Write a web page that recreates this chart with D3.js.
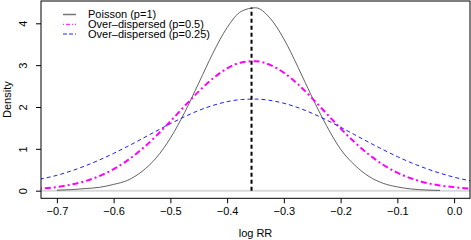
<!DOCTYPE html>
<html>
<head>
<meta charset="utf-8">
<script src="https://cdn.jsdelivr.net/npm/d3@7"></script>
<style>
  body { margin: 0; background: white; }
  svg { display: block; font-family: "Liberation Sans", Arial, Helvetica, sans-serif; }
  .axis text { font-size: 11px; fill: black; }
  .axis line { stroke: black; }
  .axis path { display: none; }
</style>
</head>
<body>
<div id="chart"></div>
<script>
// log RR grid the curves were read at
var logRR = [-0.73, -0.70, -0.675, -0.65, -0.625, -0.60, -0.575, -0.55, -0.525, -0.50,
             -0.475, -0.45, -0.425, -0.40, -0.375, -0.35, -0.325, -0.30, -0.275, -0.25,
             -0.225, -0.20, -0.175, -0.15, -0.125, -0.10, -0.075, -0.05, -0.025, 0.0, 0.03];

// density values (null = curve not drawn there)
var poisson = [null, 0.010, 0.025, 0.050, 0.080, 0.150, 0.250, 0.460, 0.784, 1.256,
               1.866, 2.572, 3.288, 3.898, 4.286, 4.371, 4.134, 3.626, 2.950, 2.226,
               1.558, 0.990, 0.609, 0.340, 0.176, 0.090, 0.040, 0.016, 0.006, null, null];
var overHalf = [0.047, 0.088, 0.144, 0.229, 0.350, 0.515, 0.730, 0.996, 1.309, 1.658,
                2.021, 2.373, 2.683, 2.921, 3.064, 3.094, 3.009, 2.818, 2.541, 2.207,
                1.846, 1.487, 1.154, 0.862, 0.620, 0.430, 0.290, 0.190, 0.125, 0.085, 0.045];
var overQuarter = [0.275, 0.367, 0.471, 0.594, 0.735, 0.892, 1.062, 1.241, 1.423, 1.601,
                   1.768, 1.917, 2.038, 2.127, 2.178, 2.189, 2.159, 2.089, 1.984, 1.848,
                   1.690, 1.517, 1.336, 1.154, 0.979, 0.814, 0.665, 0.533, 0.419, 0.323, 0.230];

// mode of the Poisson curve, marked by the dashed vertical line
var peakRR = -0.357, peakDensity = 4.38;

var xTicks = [-0.7, -0.6, -0.5, -0.4, -0.3, -0.2, -0.1, 0.0];
var yTicks = [0, 1, 2, 3, 4];
var legendLabels = ['Poisson (p=1)', 'Over\u2013dispersed (p=0.5)', 'Over\u2013dispersed (p=0.25)'];

var width = 471, height = 240;
var plot = { left: 41, right: 470, top: 1, bottom: 198.3 };

var svg = d3.select('#chart').append('svg')
    .attr('width', width).attr('height', height);

var x = d3.scaleLinear().domain([-0.728, 0.028]).range([plot.left, plot.right]);
var y = d3.scaleLinear().domain([-0.182, 4.533]).range([plot.bottom, plot.top]);

svg.append('clipPath').attr('id', 'clip')
  .append('rect')
    .attr('x', plot.left).attr('y', plot.top)
    .attr('width', plot.right - plot.left).attr('height', plot.bottom - plot.top);

// light grey reference line at density 0
svg.append('line')
    .attr('x1', plot.left).attr('x2', plot.right)
    .attr('y1', y(0)).attr('y2', y(0))
    .style('stroke', '#d9d9d9').style('stroke-width', 2);

// the three density curves
var series = [
  { values: poisson, color: '#3a3a3a', width: 0.8, dash: null },
  { values: overHalf, color: '#ff00ff', width: 2, dash: '2,3,6,3' },
  { values: overQuarter, color: '#0000ff', width: 0.9, dash: '4,3' }
];

var line = d3.line()
    .defined(function(d) { return d[1] !== null; })
    .x(function(d) { return x(d[0]); })
    .y(function(d) { return y(d[1]); })
    .curve(d3.curveMonotoneX);

var curves = svg.append('g').attr('clip-path', 'url(#clip)');
series.forEach(function(s) {
  var pts = logRR.map(function(v, i) { return [v, s.values[i]]; });
  curves.append('path')
      .attr('d', line(pts))
      .style('fill', 'none')
      .style('stroke', s.color)
      .style('stroke-width', s.width)
      .style('stroke-dasharray', s.dash);
});

// dashed vertical line at the mode
svg.append('line')
    .attr('x1', x(peakRR)).attr('x2', x(peakRR))
    .attr('y1', y(0)).attr('y2', y(peakDensity))
    .style('stroke', 'black').style('stroke-width', 2)
    .style('stroke-dasharray', '4,3');

// axes
svg.append('g')
    .attr('class', 'x axis')
    .attr('transform', 'translate(0,' + plot.bottom + ')')
    .call(d3.axisBottom(x).tickValues(xTicks).tickSize(5).tickFormat(d3.format('.1f')))
    .selectAll('text').attr('y', 9).attr('dy', '0.71em');

var yAxis = svg.append('g')
    .attr('class', 'y axis')
    .attr('transform', 'translate(' + plot.left + ',0)')
    .call(d3.axisLeft(y).tickValues(yTicks).tickSize(5).tickFormat(d3.format('d')));
yAxis.selectAll('text')
    .attr('x', 0).attr('dy', 0)
    .style('text-anchor', 'middle')
    .attr('transform', 'translate(-14,0) rotate(-90)');

// box round the plot region
svg.append('rect')
    .attr('x', plot.left).attr('y', plot.top)
    .attr('width', plot.right - plot.left).attr('height', plot.bottom - plot.top)
    .style('fill', 'none').style('stroke', 'black').style('stroke-width', 1);

// axis titles
svg.append('text')
    .attr('x', (plot.left + plot.right) / 2).attr('y', 237)
    .style('text-anchor', 'middle').style('font-size', '11px')
    .text('log RR');

svg.append('text')
    .attr('transform', 'translate(11,' + (plot.top + plot.bottom) / 2 + ') rotate(-90)')
    .style('text-anchor', 'middle').style('font-size', '11px')
    .text('Density');

// legend, no frame
var legendStyles = [
  { color: '#777777', width: 1.5, dash: null },
  { color: '#ff00ff', width: 1, dash: '1,2,4,2' },
  { color: '#7070ff', width: 1.5, dash: '4,2' }
];
var legend = svg.append('g').attr('class', 'legend');
legendLabels.forEach(function(label, i) {
  var ly = 14.5 + i * 9.8;
  legend.append('line')
      .attr('x1', 63).attr('x2', 76).attr('y1', ly).attr('y2', ly)
      .style('stroke', legendStyles[i].color)
      .style('stroke-width', legendStyles[i].width)
      .style('stroke-dasharray', legendStyles[i].dash);
  legend.append('text')
      .attr('x', 88).attr('y', ly).attr('dy', '0.35em')
      .style('font-size', '11px')
      .text(label);
});
</script>
</body>
</html>
